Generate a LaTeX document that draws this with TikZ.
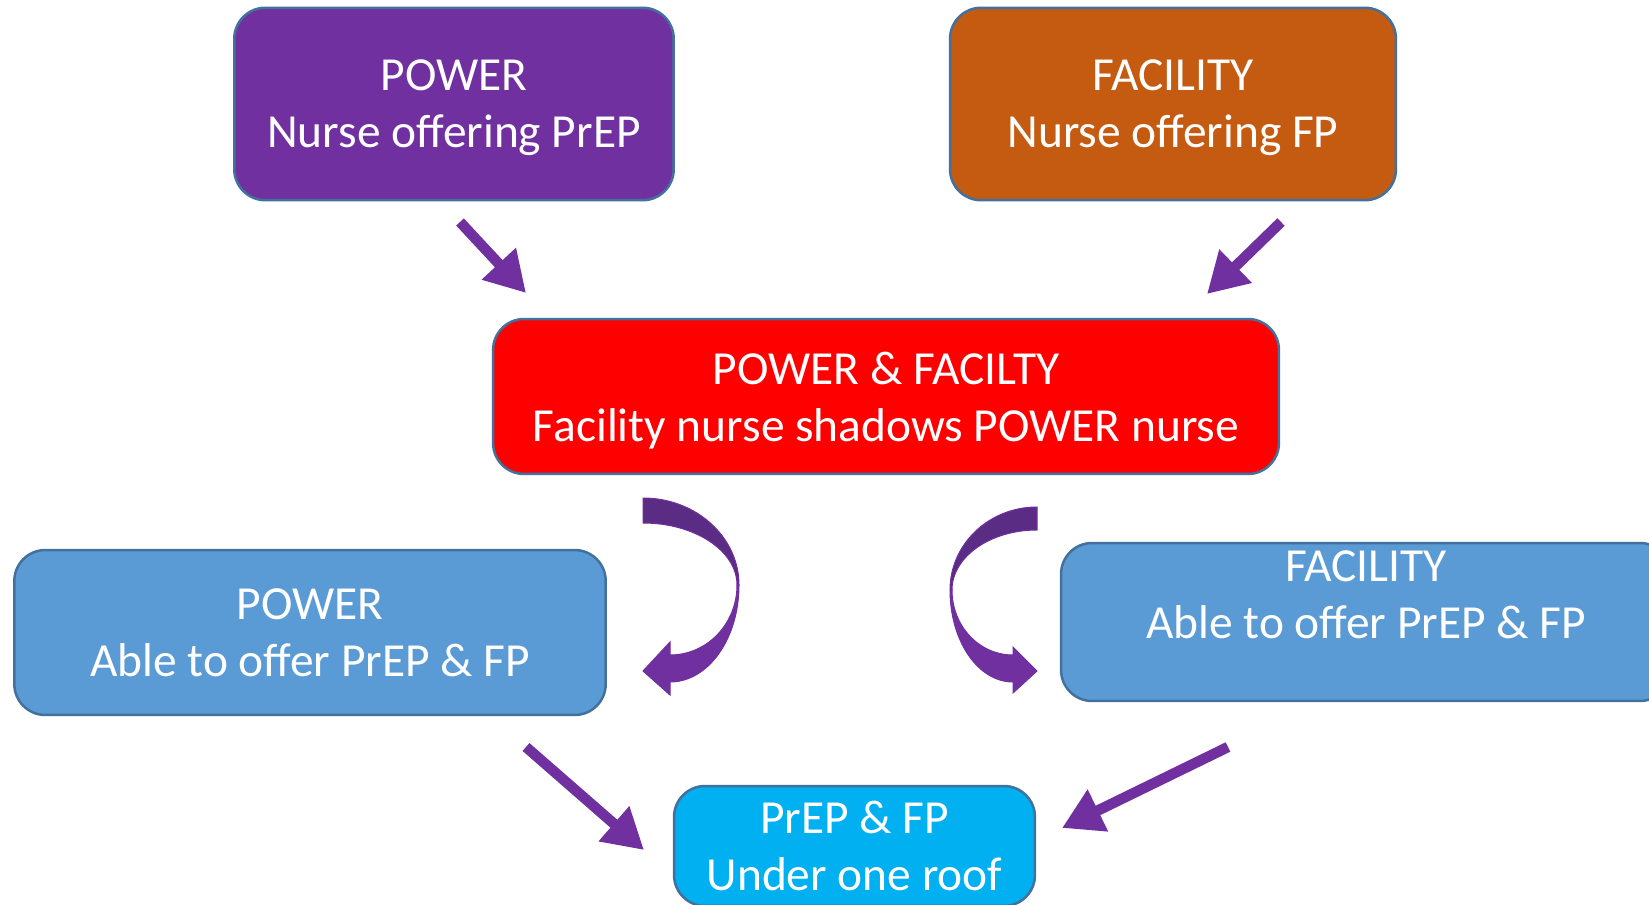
\documentclass[tikz,border=0pt]{standalone}
\usepackage{fontspec}
\setmainfont{Carlito}
\usetikzlibrary{arrows.meta, positioning}

\definecolor{powerpurple}{HTML}{7030A0}
\definecolor{facilityorange}{HTML}{C55A11}
\definecolor{bothred}{HTML}{FF0000}
\definecolor{ableblue}{HTML}{5B9BD5}
\definecolor{roofcyan}{HTML}{00B0F0}
\definecolor{edgeblue}{HTML}{41719C}
\definecolor{purpledark}{HTML}{5B2C84}

\begin{document}
\begin{tikzpicture}[x=0.02cm, y=-0.02cm, >=Triangle]
        % Styles
        \tikzstyle{block} = [rectangle, draw=edgeblue, line width=0.05cm, rounded corners=0.62cm, text=white, align=center, font=\fontsize{27}{32.5}\selectfont]
        \tikzstyle{line} = [draw=powerpurple, line width=0.21cm, -{Triangle[length=0.8cm, width=0.88cm]}]
        \tikzstyle{curvedarrow} = [fill=powerpurple, draw=powerpurple, line width=0.02cm]
        \tikzstyle{curvedback} = [fill=purpledark, draw=powerpurple, line width=0.02cm]

        \useasboundingbox (0,0) rectangle (1649,905);
        \clip (0,0) rectangle (1649,905);

        % Nodes
        \node (power) [block, fill=powerpurple, minimum width=8.79cm, minimum height=3.85cm, text depth=-2pt] at (454,104) {POWER\\Nurse offering PrEP};
        \node (facility) [block, fill=facilityorange, minimum width=8.92cm, minimum height=3.85cm, text depth=-2pt] at (1173,104) {FACILITY\\Nurse offering FP};
        \node (both) [block, fill=bothred, minimum width=15.72cm, minimum height=3.1cm, text depth=-1pt] at (886,396.5) {POWER \& FACILTY\\Facility nurse shadows POWER nurse};
        \node (power_able) [block, fill=ableblue, minimum width=11.83cm, minimum height=3.3cm, text depth=-2pt] at (310,632.5) {POWER\\Able to offer PrEP \& FP};
        \node (facility_able) [block, fill=ableblue, minimum width=12.2cm, minimum height=3.16cm, text depth=31pt] at (1366,622) {FACILITY\\Able to offer PrEP \& FP};
        \node (one_roof) [block, fill=roofcyan, minimum width=7.22cm, minimum height=2.4cm] at (854.5,846) {PrEP \& FP\\Under one roof};

        % Arrow ends
        \coordinate (power_out) at (460,222);
        \coordinate (both_in_left) at (526,293);
        \coordinate (facility_out) at (1281,222);
        \coordinate (both_in_right) at (1207,294);
        \coordinate (power_able_out) at (526,747);
        \coordinate (roof_in_left) at (644,850);
        \coordinate (facility_able_out) at (1228,747);
        \coordinate (roof_in_right) at (1062,828);

        % Edges
        \path [line] (power_out) -- (both_in_left);
        \path [line] (facility_out) -- (both_in_right);
        \path [line] (power_able_out) -- (roof_in_left);
        \path [line] (facility_able_out) -- (roof_in_right);

        % Curved arrows below the red box
        \path [curvedback] (643,498) .. controls (696,498) and (739,537) .. (739,585) -- (737,585) .. controls (737,551) and (695,523) .. (643,523) -- cycle;
        \path [curvedarrow] (739,585) .. controls (739,639) and (708,682) .. (670,682) -- (670,695) -- (643,671) -- (670,642) -- (670,655) .. controls (707,655) and (737,624) .. (737,585) -- cycle;
        \path [curvedback] (1037,507) .. controls (989,507) and (950,544) .. (950,590) -- (952,590) .. controls (952,557) and (990,530) .. (1037,530) -- cycle;
        \path [curvedarrow] (950,590) .. controls (950,641) and (978,682) .. (1013,682) -- (1013,693) -- (1037,671) -- (1013,647) -- (1013,655) .. controls (979,655) and (952,626) .. (952,590) -- cycle;

    \end{tikzpicture}
\end{document}
